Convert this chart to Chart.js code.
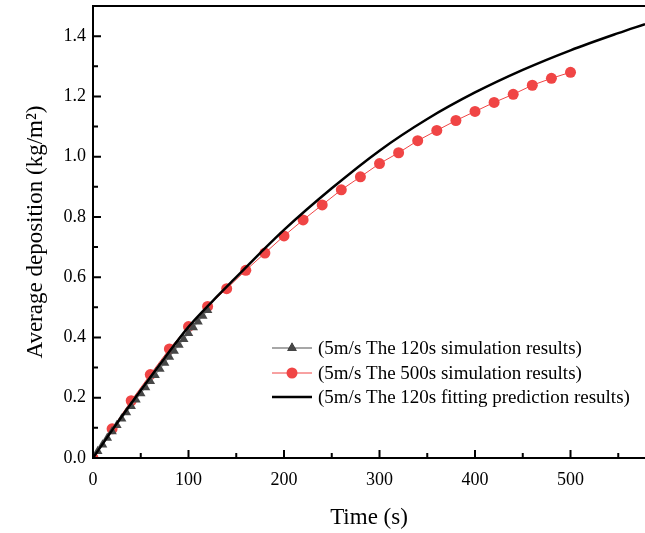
<!DOCTYPE html>
<html>
<head>
<meta charset="utf-8">
<script src="https://cdn.jsdelivr.net/npm/chart.js@4/dist/chart.umd.min.js"></script>
<style>
  html, body { margin: 0; padding: 0; background: #fff; overflow: hidden; }
  #wrap { width: 645px; height: 533px; }
</style>
</head>
<body>
<div id="wrap"><canvas id="chart" width="645" height="533"></canvas></div>
<script>
// 120s simulation (triangles), every 5 s
const simShortTime = [0, 5, 10, 15, 20, 25, 30, 35, 40, 45, 50, 55, 60, 65, 70, 75, 80, 85, 90, 95, 100, 105, 110, 115, 120];
const simShortVal = [0, 0.022, 0.044, 0.066, 0.088, 0.109, 0.13, 0.151, 0.172, 0.193, 0.214, 0.234, 0.255, 0.275, 0.295, 0.315, 0.335, 0.355, 0.375, 0.394, 0.414, 0.433, 0.452, 0.471, 0.49];

// 500s simulation (circles), every 20 s
const simLongTime = [0, 20, 40, 60, 80, 100, 120, 140, 160, 180, 200, 220, 240, 260, 280, 300, 320, 340, 360, 380, 400, 420, 440, 460, 480, 500];
const simLongVal = [0, 0.097, 0.19, 0.277, 0.362, 0.436, 0.503, 0.562, 0.623, 0.68, 0.737, 0.79, 0.84, 0.89, 0.933, 0.977, 1.013, 1.053, 1.087, 1.12, 1.15, 1.18, 1.207, 1.237, 1.26, 1.28];

// fitting prediction curve
const fitTime = [0, 25, 50, 75, 100, 125, 150, 175, 200, 250, 300, 350, 400, 450, 500, 550, 578];
const fitVal = [0, 0.115, 0.225, 0.332, 0.435, 0.52, 0.6, 0.68, 0.757, 0.895, 1.02, 1.125, 1.213, 1.288, 1.353, 1.41, 1.44];

const legendLabels = [
  "(5m/s The 120s simulation results)",
  "(5m/s The 500s simulation results)",
  "(5m/s The 120s fitting prediction results)"
];

const xTicks = [0, 100, 200, 300, 400, 500];
const xMinor = [50, 150, 250, 350, 450, 550];
const yTicks = [0, 0.2, 0.4, 0.6, 0.8, 1.0, 1.2, 1.4];
const yMinor = [0.1, 0.3, 0.5, 0.7, 0.9, 1.1, 1.3];

const FONT = "'Liberation Serif', 'Times New Roman', serif";
const RED = "#f04545";
const TRI = "#474747";

function pts(xs, ys) {
  return xs.map((x, i) => ({ x: x, y: ys[i] }));
}

const decorPlugin = {
  id: "decor",
  afterDraw(chart) {
    const ctx = chart.ctx;
    const area = chart.chartArea;
    const xs = chart.scales.x;
    const ys = chart.scales.y;
    ctx.save();
    ctx.strokeStyle = "#000";
    ctx.lineWidth = 2;

    // top frame line
    ctx.beginPath();
    ctx.moveTo(area.left, area.top);
    ctx.lineTo(area.right, area.top);
    ctx.stroke();

    // inward ticks
    ctx.beginPath();
    xTicks.forEach(v => {
      const px = xs.getPixelForValue(v);
      ctx.moveTo(px, area.bottom);
      ctx.lineTo(px, area.bottom - 8);
    });
    xMinor.forEach(v => {
      const px = xs.getPixelForValue(v);
      ctx.moveTo(px, area.bottom);
      ctx.lineTo(px, area.bottom - 5);
    });
    yTicks.forEach(v => {
      const py = ys.getPixelForValue(v);
      ctx.moveTo(area.left, py);
      ctx.lineTo(area.left + 8, py);
    });
    yMinor.forEach(v => {
      const py = ys.getPixelForValue(v);
      ctx.moveTo(area.left, py);
      ctx.lineTo(area.left + 5, py);
    });
    ctx.stroke();

    // legend
    const lx = 272, lw = 40, tx = 318;
    const rows = [348, 373, 397];
    ctx.font = "19px " + FONT;
    ctx.fillStyle = "#000";
    ctx.textBaseline = "middle";
    ctx.textAlign = "left";

    // row 1: gray line + triangle
    ctx.strokeStyle = "#8a8a8a";
    ctx.lineWidth = 1.5;
    ctx.beginPath();
    ctx.moveTo(lx, rows[0]);
    ctx.lineTo(lx + lw, rows[0]);
    ctx.stroke();
    Chart.helpers.drawPoint(ctx, { pointStyle: "triangle", radius: 5.5, borderWidth: 0 }, lx + lw / 2, rows[0]);
    ctx.fillStyle = TRI;
    ctx.fill();

    // row 2: red line + circle
    ctx.strokeStyle = RED;
    ctx.lineWidth = 1;
    ctx.beginPath();
    ctx.moveTo(lx, rows[1]);
    ctx.lineTo(lx + lw, rows[1]);
    ctx.stroke();
    ctx.beginPath();
    ctx.arc(lx + lw / 2, rows[1], 5.5, 0, Math.PI * 2);
    ctx.fillStyle = RED;
    ctx.fill();

    // row 3: black line
    ctx.strokeStyle = "#000";
    ctx.lineWidth = 2.5;
    ctx.beginPath();
    ctx.moveTo(lx, rows[2]);
    ctx.lineTo(lx + lw, rows[2]);
    ctx.stroke();

    ctx.fillStyle = "#000";
    legendLabels.forEach((t, i) => ctx.fillText(t, tx, rows[i] + 1));
    ctx.restore();
  }
};

new Chart(document.getElementById("chart").getContext("2d"), {
  type: "line",
  data: {
    datasets: [
      {
        label: legendLabels[2],
        data: pts(fitTime, fitVal),
        borderColor: "#000",
        borderWidth: 2.5,
        pointRadius: 0,
        cubicInterpolationMode: "monotone",
        order: 0
      },
      {
        label: legendLabels[0],
        data: pts(simShortTime, simShortVal),
        borderColor: "#8a8a8a",
        borderWidth: 1,
        pointStyle: "triangle",
        pointRadius: 5.5,
        pointBackgroundColor: TRI,
        pointBorderWidth: 0,
        order: 1
      },
      {
        label: legendLabels[1],
        data: pts(simLongTime, simLongVal),
        borderColor: RED,
        borderWidth: 1,
        pointStyle: "circle",
        pointRadius: 5.5,
        pointBackgroundColor: RED,
        pointBorderWidth: 0,
        order: 2
      }
    ]
  },
  options: {
    responsive: false,
    animation: false,
    layout: { autoPadding: false, padding: { top: 6, right: 0, left: 0, bottom: 0 } },
    plugins: {
      legend: { display: false },
      tooltip: { enabled: false }
    },
    scales: {
      x: {
        type: "linear",
        min: 0,
        max: 578,
        afterBuildTicks: s => { s.ticks = xTicks.map(v => ({ value: v })); },
        afterFit: s => { s.height = 75; s.paddingLeft = 0; s.paddingRight = 0; },
        grid: { display: true, drawOnChartArea: false, drawTicks: false },
        border: { display: true, color: "#000", width: 2 },
        ticks: {
          color: "#000",
          font: { family: FONT, size: 18 },
          padding: 11,
          maxRotation: 0
        },
        title: {
          display: true,
          text: "Time (s)",
          color: "#000",
          font: { family: FONT, size: 23 },
          padding: { top: 0, bottom: 1 }
        }
      },
      y: {
        min: 0,
        max: 1.5,
        afterBuildTicks: s => { s.ticks = yTicks.map(v => ({ value: v })); },
        afterFit: s => { s.width = 93; s.paddingTop = 0; s.paddingBottom = 0; },
        grid: { display: true, drawOnChartArea: false, drawTicks: false },
        border: { display: true, color: "#000", width: 2 },
        ticks: {
          color: "#000",
          font: { family: FONT, size: 18 },
          padding: 7,
          callback: v => Number(v).toFixed(1)
        },
        title: {
          display: true,
          text: "Average deposition (kg/m\u00b2)",
          color: "#000",
          font: { family: FONT, size: 23 },
          padding: { top: 22, bottom: 0 }
        }
      }
    }
  },
  plugins: [decorPlugin]
});
</script>
</body>
</html>
